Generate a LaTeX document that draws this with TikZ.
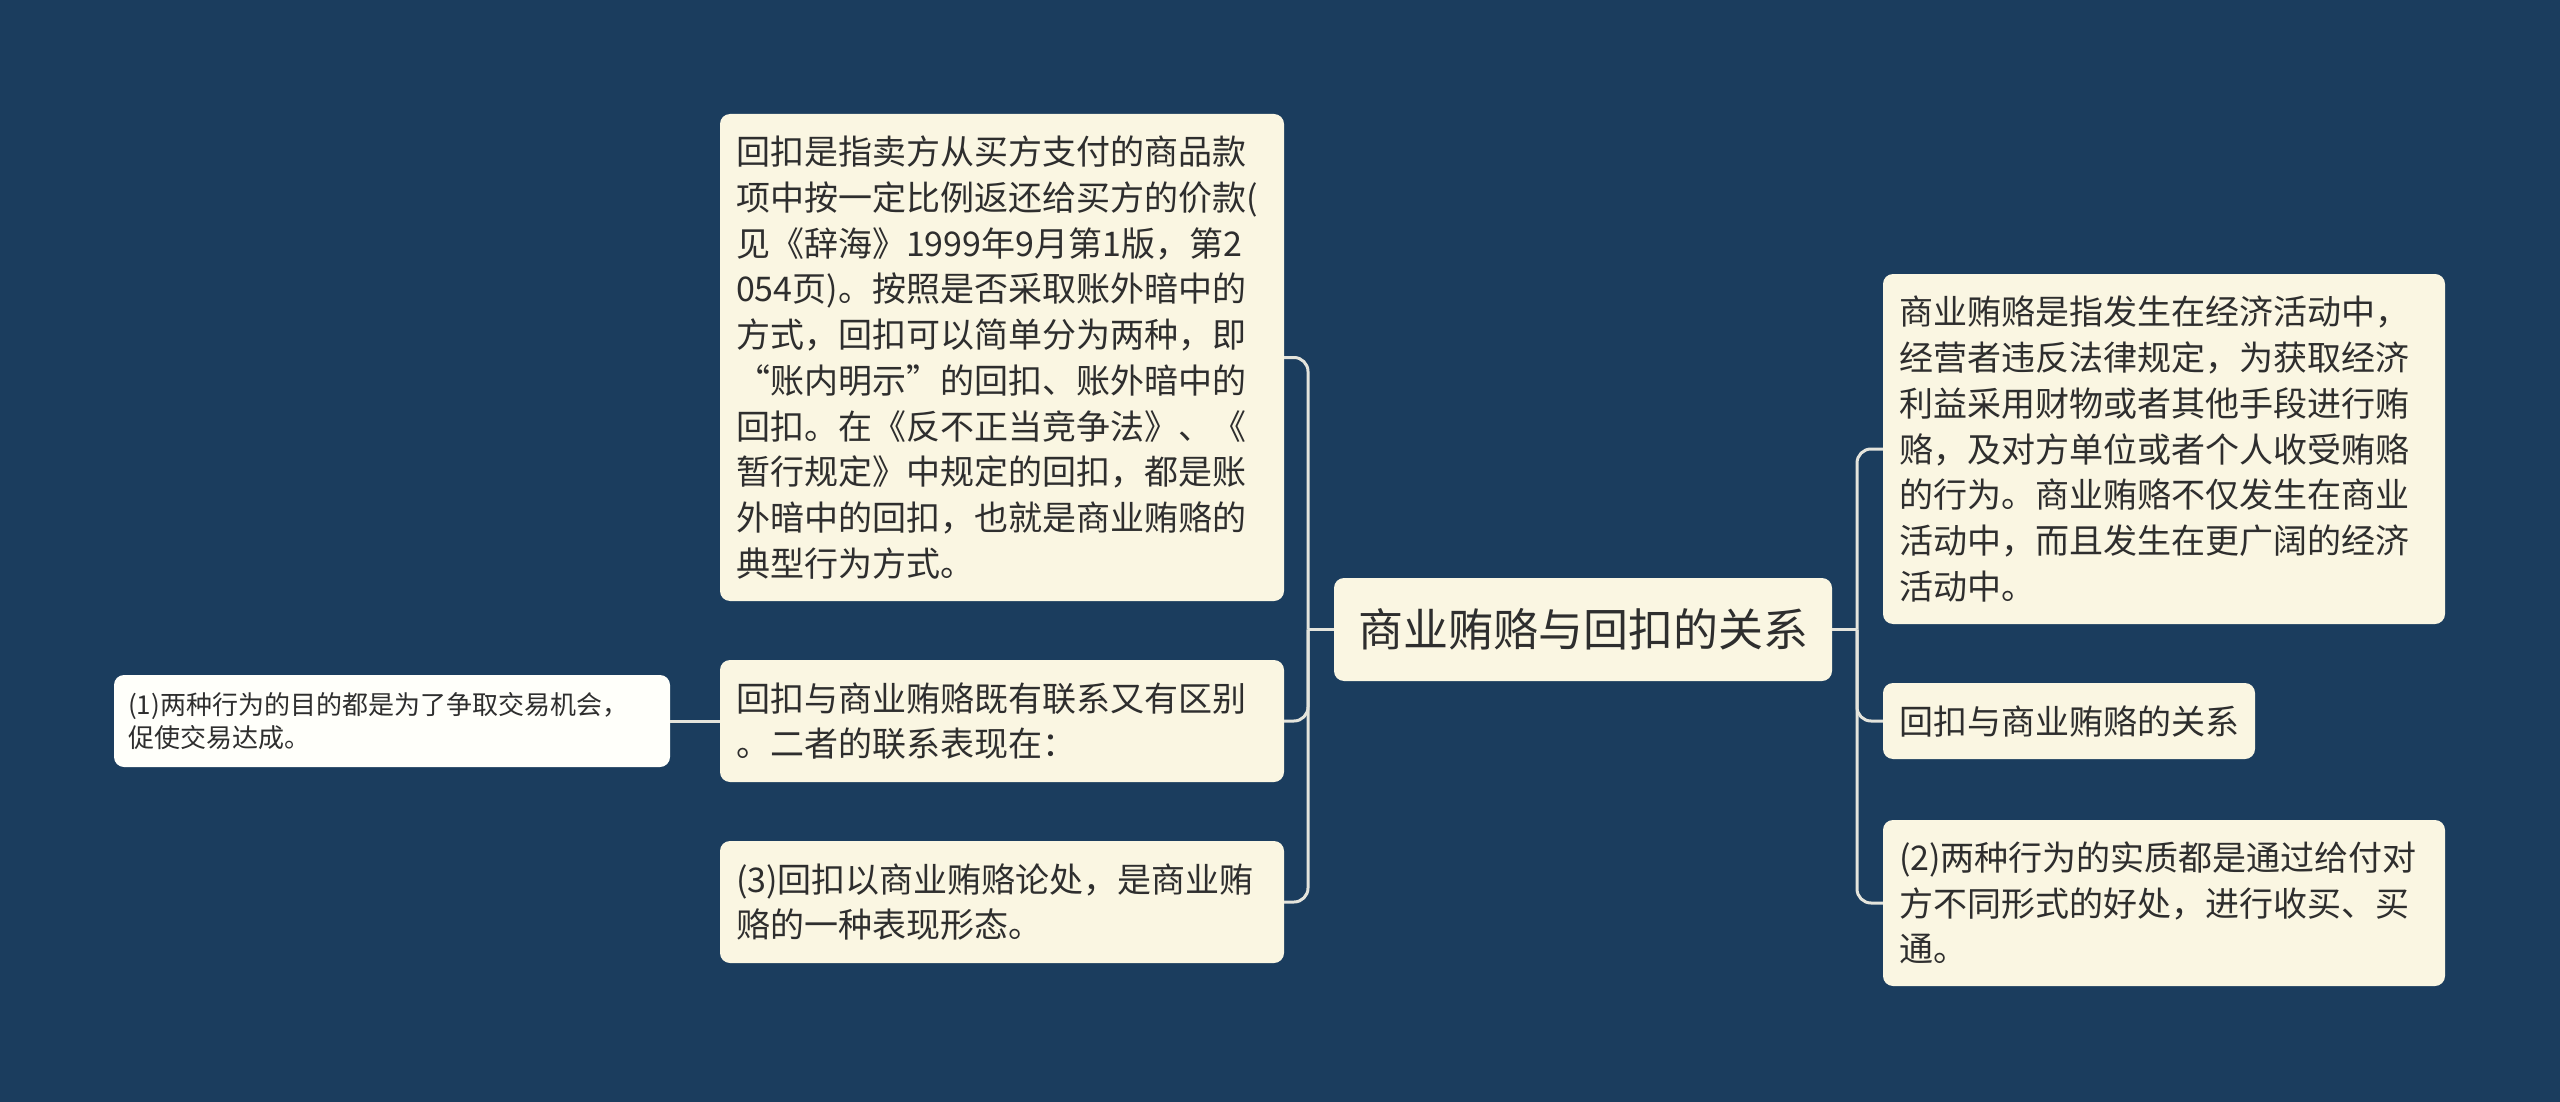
\documentclass[tikz,border=0pt]{standalone}
\usepackage{fontspec}
\setmainfont{Noto Sans CJK SC}
\definecolor{bg}{HTML}{1B3D5E}
\definecolor{cream}{HTML}{FAF6E2}
\definecolor{leafc}{HTML}{FFFFFA}
\definecolor{ink}{HTML}{2E2E2E}
\definecolor{wire}{HTML}{E4E4DC}
\tikzset{
  box/.style={fill=cream, rounded corners=10pt, text=ink, align=left,
    inner xsep=16pt, inner ysep=0pt, font=\fontsize{34}{45.7}\selectfont},
  leafbox/.style={box, fill=leafc, inner xsep=14pt, font=\fontsize{26}{33}\selectfont},
  rootbox/.style={box, align=center, inner xsep=20pt, font=\fontsize{45}{54}\selectfont},
  conn/.style={draw=wire, line width=3pt, rounded corners=14pt}
}
\begin{document}
\begin{tikzpicture}[x=1pt,y=-1pt]
\useasboundingbox (0,0) rectangle (2560,1102);
\fill[bg] (0,0) rectangle (2560,1102);

\node[rootbox, minimum width=498pt, minimum height=103pt] (c) at (1583,629.5) {商业贿赂与回扣的关系};

\node[box, text width=532pt, minimum height=487pt] (b1) at (1002,357.5)
{回扣是指卖方从买方支付的商品款\\项中按一定比例返还给买方的价款(\\见《辞海》1999年9月第1版，第2\\054页)。按照是否采取账外暗中的\\方式，回扣可以简单分为两种，即\\“账内明示”的回扣、账外暗中的\\回扣。在《反不正当竞争法》、《\\暂行规定》中规定的回扣，都是账\\外暗中的回扣，也就是商业贿赂的\\典型行为方式。};
\node[box, text width=532pt, minimum height=122pt] (b2) at (1002,721)
{回扣与商业贿赂既有联系又有区别\\。二者的联系表现在：};
\node[box, text width=532pt, minimum height=122pt] (b3) at (1002,902)
{(3)回扣以商业贿赂论处，是商业贿\\赂的一种表现形态。};
\node[leafbox, text width=528pt, minimum height=92pt] (l1) at (392,721)
{(1)两种行为的目的都是为了争取交易机会，\\促使交易达成。};

\node[box, text width=530pt, minimum height=350pt] (r1) at (2164,449)
{商业贿赂是指发生在经济活动中，\\经营者违反法律规定，为获取经济\\利益采用财物或者其他手段进行贿\\赂，及对方单位或者个人收受贿赂\\的行为。商业贿赂不仅发生在商业\\活动中，而且发生在更广阔的经济\\活动中。};
\node[box, text width=340pt, minimum height=76pt] (r2) at (2069,721)
{回扣与商业贿赂的关系};
\node[box, text width=530pt, minimum height=166pt] (r3) at (2164,903)
{(2)两种行为的实质都是通过给付对\\方不同形式的好处，进行收买、买\\通。};

\coordinate (lj) at (1308,629.5);
\coordinate (rj) at (1857,629.5);

\draw[conn] (c.west) -- (lj);
\draw[conn] (lj) |- (b1.east);
\draw[conn] (lj) |- (b2.east);
\draw[conn] (lj) |- (b3.east);
\draw[conn] (b2.west) -- (l1.east);

\draw[conn] (c.east) -- (rj);
\draw[conn] (rj) |- (r1.west);
\draw[conn] (rj) |- (r2.west);
\draw[conn] (rj) |- (r3.west);
\end{tikzpicture}
\end{document}
